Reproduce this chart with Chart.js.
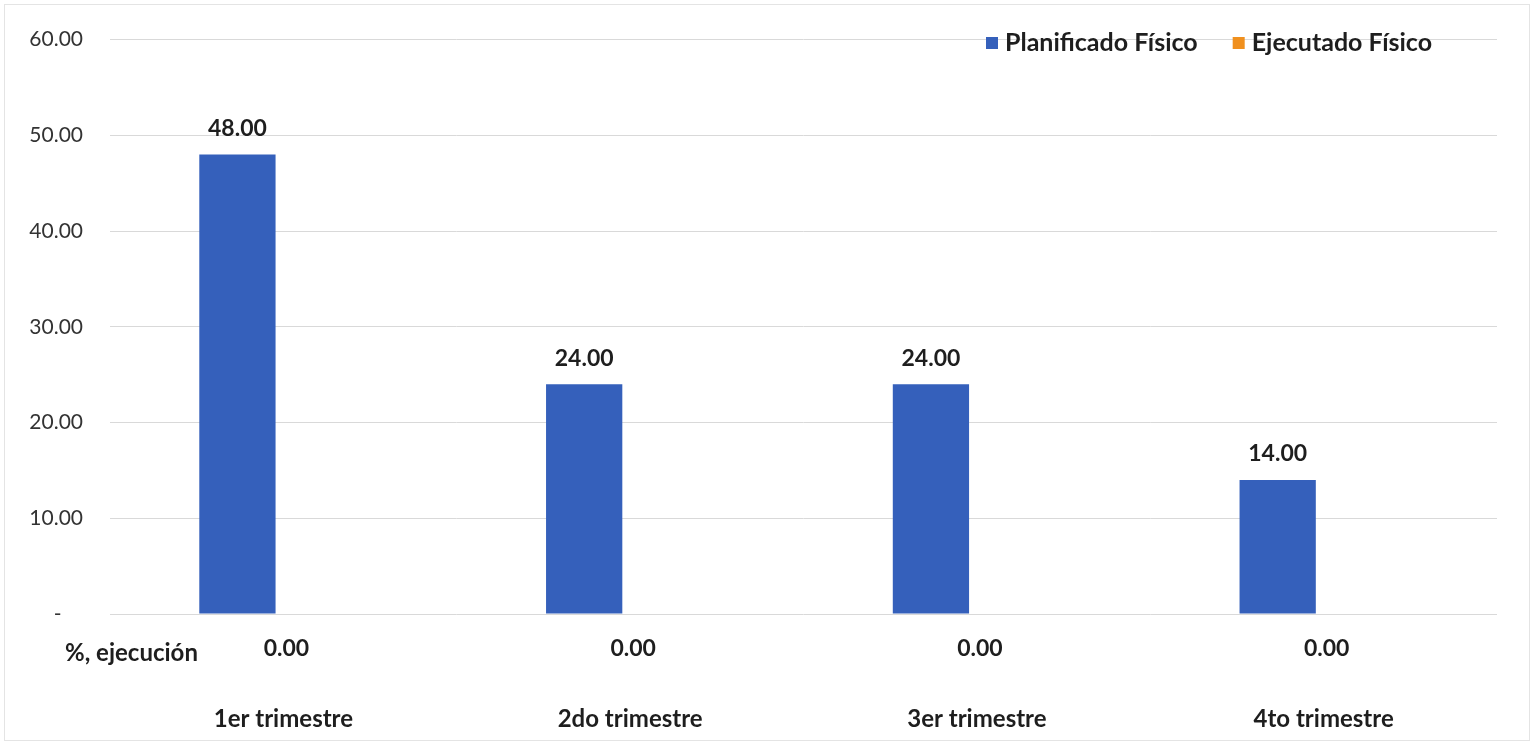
<!DOCTYPE html>
<html>
<head>
<meta charset="utf-8">
<script src="https://cdn.jsdelivr.net/npm/chart.js@4"></script>
<style>
  html, body { margin: 0; padding: 0; background: #fff; }
  #wrap { position: relative; width: 1534px; height: 745px; }
  #marco { position: absolute; left: 4px; top: 4px; right: 4px; bottom: 4px; border: 1px solid #e4e4e4; pointer-events: none; }
</style>
</head>
<body>
<div id="wrap">
  <canvas id="grafico" width="1534" height="745"></canvas>
  <div id="marco"></div>
</div>
<script>
// datos del grafico
var categorias = ['1er trimestre', '2do trimestre', '3er trimestre', '4to trimestre'];
var planificado = [48, 24, 24, 14];
var ejecutado = [0, 0, 0, 0];
var etiquetaFila = '%, ejecución';
var seriesNombres = ['Planificado Físico', 'Ejecutado Físico'];

var FUENTE = 'Lato, "Open Sans", sans-serif';

// etiquetas de datos, fila de ejecucion y leyenda
var extrasPlugin = {
    id: 'extras',
    afterDatasetsDraw: function(chart) {
        var ctx = chart.ctx;
        var area = chart.chartArea;
        var x = chart.scales.x;
        ctx.save();
        ctx.fillStyle = '#1e1e1e';
        ctx.textAlign = 'center';
        ctx.textBaseline = 'middle';

        // valores sobre las barras
        ctx.font = 'bold 23px ' + FUENTE;
        chart.getDatasetMeta(0).data.forEach(function(bar, i) {
            ctx.fillText(planificado[i].toFixed(2), bar.x, bar.y - 26);
        });

        // fila de % ejecucion
        ejecutado.forEach(function(v, i) {
            ctx.fillText(v.toFixed(2), x.getPixelForValue(i) + 3, area.bottom + 35);
        });
        ctx.font = 'bold 24px ' + FUENTE;
        ctx.textAlign = 'left';
        ctx.fillText(etiquetaFila, 65, area.bottom + 39);

        // leyenda
        ctx.font = 'bold 25px ' + FUENTE;
        var lx = 986, ly = 43;
        chart.data.datasets.forEach(function(ds) {
            ctx.fillStyle = ds.backgroundColor;
            ctx.fillRect(lx, ly - 6, 12, 12);
            ctx.fillStyle = '#1e1e1e';
            ctx.fillText(ds.label, lx + 19, ly);
            lx += 19 + ctx.measureText(ds.label).width + 35;
        });
        ctx.restore();
    }
};

new Chart(document.getElementById('grafico'), {
    type: 'bar',
    data: {
        labels: categorias,
        datasets: [{
            label: seriesNombres[0],
            data: planificado,
            backgroundColor: '#3560BB',
            categoryPercentage: 0.53,
            barPercentage: 0.83
        }, {
            label: seriesNombres[1],
            data: ejecutado,
            backgroundColor: '#F0901E',
            categoryPercentage: 0.53,
            barPercentage: 0.83
        }]
    },
    plugins: [extrasPlugin],
    options: {
        responsive: false,
        animation: false,
        layout: { padding: { left: 0, right: 37, top: 34, bottom: 0 } },
        plugins: {
            legend: { display: false },
            tooltip: { enabled: false }
        },
        scales: {
            x: {
                grid: { display: false, drawTicks: false },
                border: { display: false },
                ticks: {
                    padding: 91,
                    color: '#1e1e1e',
                    font: { family: FUENTE, size: 24, weight: 'bold' }
                },
                afterFit: function(s) { s.height = 131; }
            },
            y: {
                min: 0,
                max: 60,
                grid: { color: '#d9d9d9', lineWidth: 1, drawTicks: false },
                border: { display: false },
                ticks: {
                    stepSize: 10,
                    padding: 27,
                    color: '#333',
                    font: { family: FUENTE, size: 21 },
                    callback: function(v) { return v === 0 ? '-    ' : v.toFixed(2); }
                },
                afterFit: function(s) { s.width = 110; }
            }
        }
    }
});
</script>
</body>
</html>
